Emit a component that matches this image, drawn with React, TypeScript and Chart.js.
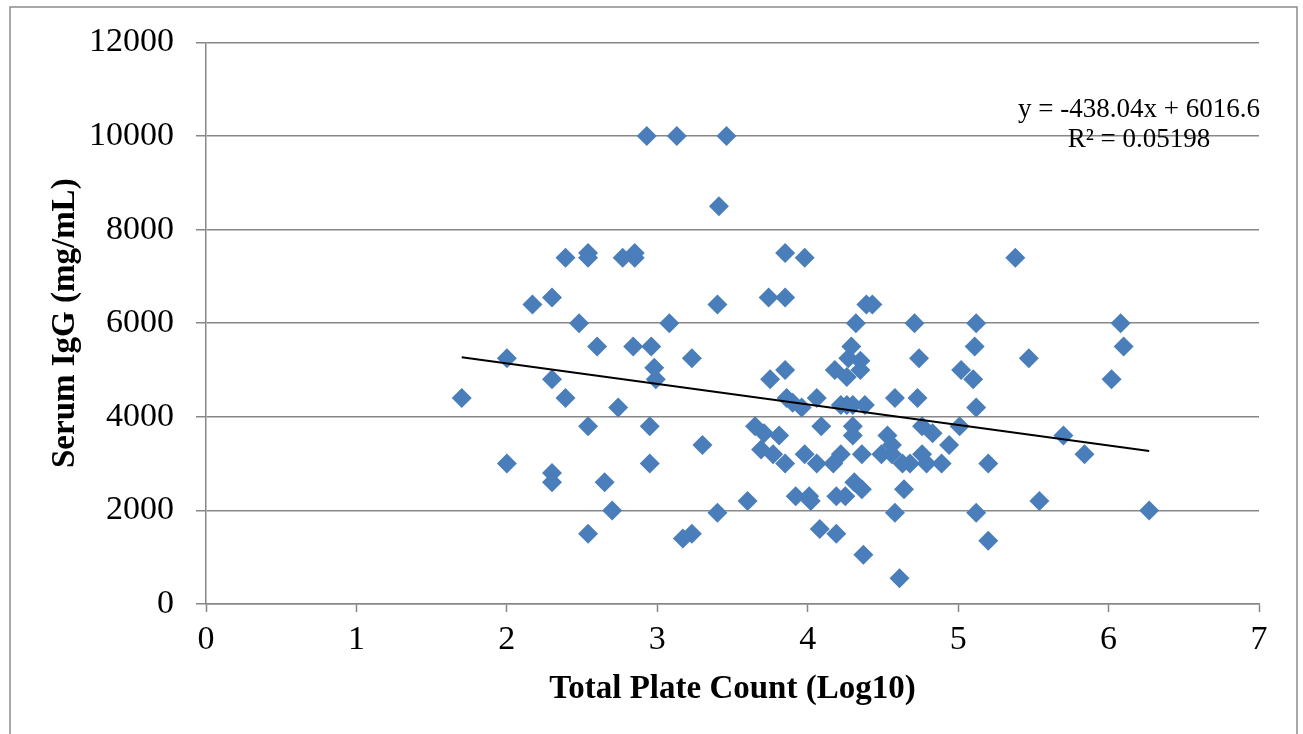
import React, { useEffect, useRef } from 'react';
import { Chart, registerables } from 'chart.js';

Chart.register(...registerables);

// Total plate count (log10) for each calf
const plateCountLog10 = [
  1.70, 2.00, 2.00, 2.17, 2.30, 2.30, 2.30, 2.30, 2.39, 2.39,
  2.48, 2.54, 2.54, 2.54, 2.54, 2.60, 2.65, 2.70, 2.74, 2.77,
  2.85, 2.85, 2.84, 2.93, 2.96, 2.95, 2.95, 2.98, 2.99, 3.08,
  3.13, 3.17, 3.23, 3.23, 3.30, 3.41, 3.40, 3.40, 3.46, 3.60,
  3.65, 3.69, 3.71, 3.74, 3.75, 3.81, 3.77, 3.85, 3.85, 3.85,
  3.86, 3.90, 3.96, 3.85, 3.92, 3.98, 3.98, 4.01, 4.02, 4.06,
  4.06, 4.09, 4.08, 4.17, 4.19, 4.19, 4.18, 4.22, 4.22, 4.25,
  4.26, 4.26, 4.27, 4.29, 4.30, 4.30, 4.30, 4.31, 4.32, 4.35,
  4.35, 4.36, 4.36, 4.37, 4.38, 4.39, 4.43, 4.49, 4.53, 4.56,
  4.56, 4.58, 4.58, 4.61, 4.63, 4.64, 4.68, 4.71, 4.73, 4.74,
  4.76, 4.76, 4.79, 4.83, 4.89, 4.94, 5.01, 5.02, 5.10, 5.11,
  5.12, 5.12, 5.12, 5.20, 5.20, 5.38, 5.47, 5.54, 5.70, 5.84,
  6.02, 6.08, 6.10, 6.27,
];

// Serum IgG (mg/mL) for each calf
const serumIgG = [
  4400, 5250, 3000, 6400, 6550, 4800, 2800, 2600, 7400, 4400,
  6000, 7500, 7400, 3800, 1500, 5500, 2600, 2000, 4200, 7400,
  7500, 7400, 5500, 10000, 5500, 3800, 3000, 5050, 4800, 6000,
  10000, 1400, 1500, 5250, 3400, 8500, 6400, 1950, 10000, 2200,
  3800, 3300, 3650, 6550, 4800, 3600, 3200, 7500, 6550, 5000,
  4400, 4300, 4200, 3000, 2300, 7400, 3200, 2300, 2200, 4400,
  3000, 3800, 1600, 3000, 2300, 1500, 5000, 3200, 4250, 2300,
  4250, 4850, 5250, 5500, 4250, 3800, 3600, 2600, 6000, 5200,
  5000, 3200, 2450, 1050, 4250, 6400, 6400, 3200, 3600, 3400,
  3200, 4400, 1950, 550, 3000, 2450, 3000, 6000, 4400, 5250,
  3200, 3800, 3000, 3650, 3000, 3400, 3800, 5000, 4800, 5500,
  6000, 4200, 1950, 3000, 1350, 7400, 5250, 2200, 3600, 3200,
  4800, 6000, 5500, 2000,
];

const trendSlope = -438.04;
const trendIntercept = 6016.6;
const equationLines = ['y = -438.04x + 6016.6', 'R² = 0.05198'];
const xTitle = 'Total Plate Count (Log10)';
const yTitle = 'Serum IgG (mg/mL)';

const SERIF = "'Liberation Serif', 'Times New Roman', serif";
const GRID = '#878787';

export default function App() {
  const canvasRef = useRef<HTMLCanvasElement | null>(null);

  useEffect(() => {
    const canvas = canvasRef.current;
    if (!canvas) return;

    const points = plateCountLog10.map((x, i) => ({ x, y: serumIgG[i] }));
    const xMin = Math.min(...plateCountLog10);
    const xMax = Math.max(...plateCountLog10);
    const trend = [
      { x: xMin, y: trendSlope * xMin + trendIntercept },
      { x: xMax, y: trendSlope * xMax + trendIntercept },
    ];

    const framePlugin = {
      id: 'frame',
      beforeDraw(chart: any) {
        const ctx = chart.ctx;
        ctx.save();
        ctx.fillStyle = '#ffffff';
        ctx.fillRect(0, 0, chart.width, chart.height);
        ctx.strokeStyle = '#8c8c8c';
        ctx.lineWidth = 1.5;
        ctx.beginPath();
        ctx.moveTo(10, chart.height + 5);
        ctx.lineTo(10, 7);
        ctx.lineTo(1297, 7);
        ctx.lineTo(1297, chart.height + 5);
        ctx.stroke();
        ctx.restore();
      },
    };

    const equationPlugin = {
      id: 'equation',
      afterDatasetsDraw(chart: any) {
        const ctx = chart.ctx;
        const area = chart.chartArea;
        ctx.save();
        ctx.fillStyle = '#000000';
        ctx.font = `27px ${SERIF}`;
        ctx.textAlign = 'center';
        ctx.textBaseline = 'alphabetic';
        const cx = area.right - 120;
        ctx.fillText(equationLines[0], cx, area.top + 75);
        ctx.fillText(equationLines[1], cx, area.top + 105);
        ctx.restore();
      },
    };

    const plainNumber = (value: any) => String(value);

    const chart = new Chart(canvas, {
      type: 'scatter',
      data: {
        datasets: [
          {
            type: 'line',
            label: 'Linear trend',
            data: trend,
            borderColor: '#000000',
            borderWidth: 2,
            pointRadius: 0,
            fill: false,
            order: 0,
          } as any,
          {
            label: 'Serum IgG',
            data: points,
            pointStyle: 'rectRot',
            pointRadius: 10,
            pointHoverRadius: 10,
            backgroundColor: '#4A7EBB',
            borderColor: '#4A7EBB',
            borderWidth: 0,
            order: 1,
          },
        ],
      },
      options: {
        animation: false,
        responsive: false,
        devicePixelRatio: 1,
        events: [],
        layout: { padding: { top: 40, right: 44, left: 0, bottom: 0 } },
        plugins: {
          legend: { display: false },
          tooltip: { enabled: false },
        },
        scales: {
          x: {
            type: 'linear',
            min: 0,
            max: 7,
            afterFit: (scale: any) => {
              scale.height = 130;
            },
            ticks: {
              stepSize: 1,
              color: '#000000',
              padding: 8,
              font: { family: SERIF, size: 34 },
              callback: plainNumber,
            },
            grid: {
              drawOnChartArea: false,
              drawTicks: true,
              tickLength: 8,
              tickColor: GRID,
              tickWidth: 1.5,
            },
            border: { display: true, color: GRID, width: 1.5 },
            title: {
              display: true,
              text: xTitle,
              color: '#000000',
              font: { family: SERIF, size: 33, weight: 'bold' },
              padding: { top: 0, bottom: 25 },
            },
          },
          y: {
            type: 'linear',
            min: 0,
            max: 12000,
            afterFit: (scale: any) => {
              scale.width = 206;
            },
            ticks: {
              stepSize: 2000,
              color: '#000000',
              padding: 22,
              font: { family: SERIF, size: 34 },
              callback: plainNumber,
            },
            grid: {
              color: GRID,
              lineWidth: 1.5,
              drawTicks: true,
              tickLength: 10,
              tickColor: GRID,
            },
            border: { display: true, color: GRID, width: 1.5 },
            title: {
              display: true,
              text: yTitle,
              color: '#000000',
              font: { family: SERIF, size: 33, weight: 'bold' },
              padding: { top: 46, bottom: 0 },
            },
          },
        },
      },
      plugins: [framePlugin, equationPlugin],
    });

    return () => {
      chart.destroy();
    };
  }, []);

  return (
    <div style={{ position: 'fixed', left: 0, top: 0, width: 1303, height: 734, background: '#ffffff' }}>
      <canvas ref={canvasRef} width={1303} height={734} style={{ display: 'block', width: 1303, height: 734 }} />
    </div>
  );
}
